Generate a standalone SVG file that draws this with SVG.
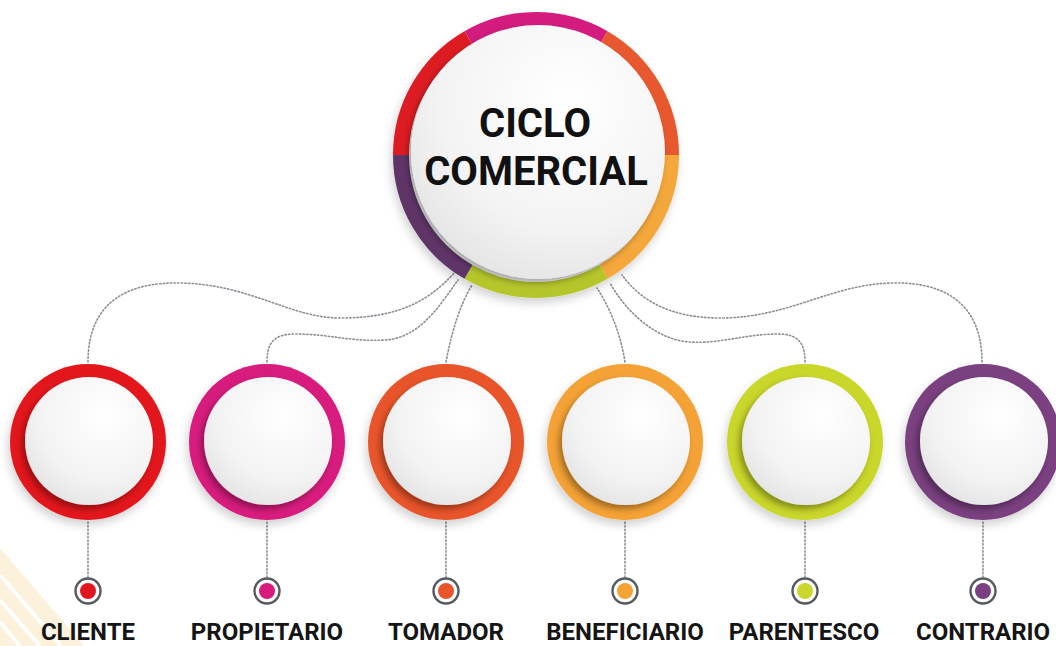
<svg xmlns="http://www.w3.org/2000/svg" width="1056" height="646" viewBox="0 0 1056 646">
<style>
.lbl{font-family:Roboto,"Liberation Sans",sans-serif;font-weight:700;font-size:24px;fill:#151515;text-anchor:middle}
.ttl{font-family:Roboto,"Liberation Sans",sans-serif;font-weight:700;font-size:40px;fill:#111;text-anchor:middle}
.conn{fill:none;stroke:#8a8f96;stroke-width:1.6;stroke-dasharray:1.4 2.2;stroke-linecap:round}
.seg{fill:none;stroke-width:16}
.face{fill:url(#face)}
.dotring{fill:#fff;stroke:#555a5e;stroke-width:2.4}
</style>
<defs>
<radialGradient id="face" cx="0.62" cy="0.3" r="0.85">
<stop offset="0" stop-color="#ffffff"/>
<stop offset="0.6" stop-color="#f3f3f3"/>
<stop offset="1" stop-color="#dedede"/>
</radialGradient>
<filter id="sh" x="-30%" y="-30%" width="160%" height="160%">
<feDropShadow dx="-3" dy="4" stdDeviation="3" flood-color="#000" flood-opacity="0.35"/>
</filter>
<filter id="sh2" x="-30%" y="-30%" width="160%" height="160%">
<feDropShadow dx="-2" dy="5" stdDeviation="5" flood-color="#000" flood-opacity="0.18"/>
</filter>
</defs>
<rect width="1056" height="646" fill="#fff"/>
<g id="corner">
<polygon points="0,548 84,646 0,646" fill="#fcf1da"/>
<path d="M0 575 L61 646 M0 600 L40 646 M0 622 L20 646" stroke="#fff" stroke-width="4" fill="none"/>
</g>
<g id="connectors">
<path class="conn" d="M88 362 C88 300 130 282 180 283 C250 284 290 318 340 318 C400 318 430 300 455 272"/>
<path class="conn" d="M267 362 C267 345 272 334 295 334 C330 334 350 342 385 340 C420 338 440 305 458 280"/>
<path class="conn" d="M446 362 C452 330 460 305 472 285"/>
<path class="conn" d="M625 362 C620 330 608 305 597 288"/>
<path class="conn" d="M805 362 C805 345 800 334 778 334 C745 334 720 344 690 342 C655 340 625 310 610 283"/>
<path class="conn" d="M982 362 C982 300 940 282 893 283 C830 284 790 318 720 318 C670 318 640 300 622 275"/>
<path class="conn" d="M88 522 V577 M267 522 V577 M446 522 V577 M625 522 V577 M805 522 V577 M983 522 V577"/>
</g>
<g id="center">
<g filter="url(#sh2)">
<path class="seg" stroke="#f4a83a" d="M671 155 A135 135 0 0 1 603.5 271.91"/>
<path class="seg" stroke="#b5c62c" d="M603.5 271.91 A135 135 0 0 1 468.5 271.91"/>
<path class="seg" stroke="#5f3567" d="M468.5 271.91 A135 135 0 0 1 401 155"/>
<path class="seg" stroke="#dd1a24" d="M401 155 A135 135 0 0 1 468.5 38.09"/>
<path class="seg" stroke="#d41f7e" d="M468.5 38.09 A135 135 0 0 1 603.5 38.09"/>
<path class="seg" stroke="#e7582d" d="M603.5 38.09 A135 135 0 0 1 671 155"/>
</g>
<circle class="face" cx="538" cy="152" r="127" filter="url(#sh)"/>
<text class="ttl" x="535" y="137">CICLO</text>
<text class="ttl" x="536" y="185">COMERCIAL</text>
</g>
<g id="node-cliente">
<circle cx="88" cy="442" r="78" fill="#e3161f" filter="url(#sh2)"/>
<circle class="face" cx="89" cy="441" r="64" filter="url(#sh)"/>
<circle class="dotring" cx="88" cy="591" r="12.5"/>
<circle cx="88" cy="591" r="8" fill="#e3161f"/>
<text class="lbl" x="88" y="640">CLIENTE</text>
</g>
<g id="node-propietario">
<circle cx="267" cy="442" r="78" fill="#d81b7d" filter="url(#sh2)"/>
<circle class="face" cx="268" cy="441" r="64" filter="url(#sh)"/>
<circle class="dotring" cx="267" cy="591" r="12.5"/>
<circle cx="267" cy="591" r="8" fill="#d81b7d"/>
<text class="lbl" x="267" y="640">PROPIETARIO</text>
</g>
<g id="node-tomador">
<circle cx="446" cy="442" r="78" fill="#e9552a" filter="url(#sh2)"/>
<circle class="face" cx="447" cy="441" r="64" filter="url(#sh)"/>
<circle class="dotring" cx="446" cy="591" r="12.5"/>
<circle cx="446" cy="591" r="8" fill="#e9552a"/>
<text class="lbl" x="446" y="640">TOMADOR</text>
</g>
<g id="node-beneficiario">
<circle cx="625" cy="442" r="78" fill="#f4a234" filter="url(#sh2)"/>
<circle class="face" cx="626" cy="441" r="64" filter="url(#sh)"/>
<circle class="dotring" cx="625" cy="591" r="12.5"/>
<circle cx="625" cy="591" r="8" fill="#f4a234"/>
<text class="lbl" x="625" y="640">BENEFICIARIO</text>
</g>
<g id="node-parentesco">
<circle cx="805" cy="442" r="78" fill="#c9d62b" filter="url(#sh2)"/>
<circle class="face" cx="806" cy="441" r="64" filter="url(#sh)"/>
<circle class="dotring" cx="805" cy="591" r="12.5"/>
<circle cx="805" cy="591" r="8" fill="#c9d62b"/>
<text class="lbl" x="804" y="640">PARENTESCO</text>
</g>
<g id="node-contrario">
<circle cx="983" cy="442" r="78" fill="#7a3f80" filter="url(#sh2)"/>
<circle class="face" cx="984" cy="441" r="64" filter="url(#sh)"/>
<circle class="dotring" cx="983" cy="591" r="12.5"/>
<circle cx="983" cy="591" r="8" fill="#7a3f80"/>
<text class="lbl" x="983" y="640">CONTRARIO</text>
</g>
</svg>
